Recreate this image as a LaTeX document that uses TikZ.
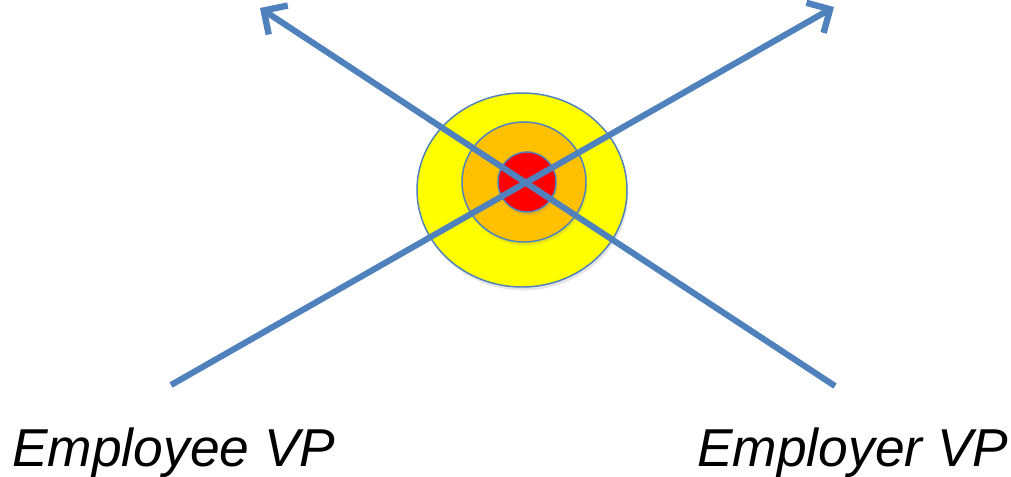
\documentclass[tikz,border=0pt]{standalone}
\usepackage{fontspec}
\setmainfont{Liberation Sans}
\usetikzlibrary{arrows.meta,shadows}
\definecolor{lineblue}{HTML}{4F81BD}
\definecolor{ringyellow}{HTML}{FFFF00}
\definecolor{ringorange}{HTML}{FFC000}
\definecolor{ringred}{HTML}{FF0000}
\tikzset{
  ring/.style={draw=lineblue, line width=1.1pt, drop shadow={opacity=0.2, shadow xshift=1pt, shadow yshift=-2.5pt}},
  vparrow/.style={draw=lineblue, line width=4.6pt, line cap=butt, -{Straight Barb[length=13pt,width=26pt,line width=4.8pt]}},
  vplabel/.style={font=\fontsize{40}{47}\selectfont\itshape, anchor=base west, inner sep=0pt}
}
\begin{document}
\begin{tikzpicture}[x=0.75pt,y=-0.75pt]
\useasboundingbox (0,0) rectangle (1011,476);
\fill[white] (0,0) rectangle (1011,476);
\path[ring, fill=ringyellow] (522,190) ellipse [x radius=105, y radius=97];
\path[ring, fill=ringorange] (524,182) ellipse [x radius=62, y radius=60];
\path[ring, fill=ringred] (527,182) ellipse [x radius=29, y radius=30];
\coordinate (s1) at (835,386);
\coordinate (e1) at (260,8);
\coordinate (s2) at (171,385);
\coordinate (e2) at (834,7);
\draw[vparrow] (s1) -- (e1);
\draw[vparrow] (s2) -- (e2);
\node[vplabel] (lab1) at (12,466) {Employee VP};
\node[vplabel] (lab2) at (697,466) {Employer VP};
\end{tikzpicture}
\end{document}
